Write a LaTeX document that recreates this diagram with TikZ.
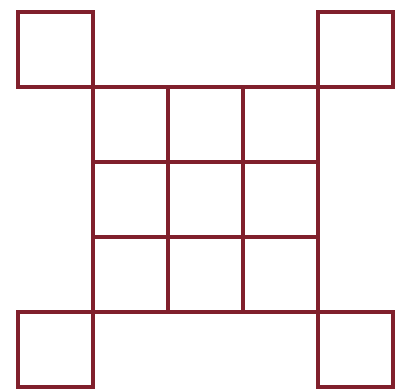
\documentclass[tikz,border=0pt]{standalone}
\usepackage{xcolor}
\usepackage{tikz}

\definecolor{gridred}{RGB}{128,32,44}

\begin{document}
\begin{tikzpicture}[
    edge/.style={draw=gridred, line width=1.5pt, line join=miter}
  ]
  \useasboundingbox (-0.24,-0.053) rectangle (5.067,5.16);
  % middle 3x3 grid
  \draw[edge] (1,1) grid (4,4);
  % corner squares
  \foreach \cx/\cy in {0/0, 4/0, 0/4, 4/4}
    \draw[edge] (\cx,\cy) rectangle ++(1,1);
\end{tikzpicture}
\end{document}
